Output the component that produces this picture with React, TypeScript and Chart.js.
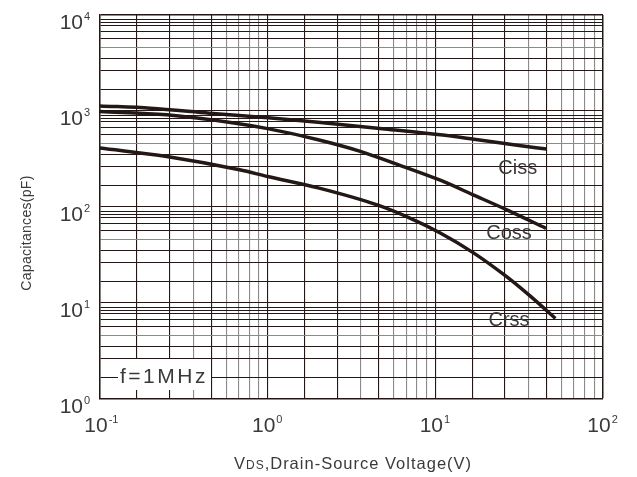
import React, { useEffect, useRef } from "react";
import { Chart, registerables } from "chart.js";

Chart.register(...registerables);

// ---- data ----
const cissV = [0.1, 0.2, 0.45, 1, 2, 5, 10.7, 17, 30, 46];
const cissC = [1130, 1070, 950, 850, 765, 650, 565, 508, 443, 401];
const cossV = [0.1, 0.25, 0.63, 1, 2, 3.57, 5.6, 10.7, 16.8, 26.5, 45.7];
const cossC = [990, 912, 750, 655, 502, 380, 288, 190, 134, 94, 60];
const crssV = [0.1, 0.25, 0.68, 1, 2, 4.5, 7, 10.7, 16.8, 26.5, 37, 52];
const crssC = [411, 336, 244, 208, 158, 105, 77, 53.6, 33.5, 18.9, 11.7, 6.9];

const seriesNames = ["Ciss", "Coss", "Crss"];
// label anchor values (V, pF) for the curve names
const labelV = [31, 27.5, 27.5];
const labelC = [256, 54, 6.7];

const xDecades = [-1, 0, 1, 2];
const yDecades = [0, 1, 2, 3, 4];
// grid multipliers within each decade (as printed on the datasheet grid)
const xGridMult = [1, 1.66, 2.6, 3.6, 4.6, 5.65, 6.7, 7.75, 8.85];
const xGridDark = [true, true, true, false, true, false, false, false, false];
const yGridMult = [1, 1.66, 2.63, 3.55, 4.6, 5.63, 6.7, 7.68, 8.4, 9.0];
const yGridDark = [true, true, true, true, false, true, true, true, true, true];

const xTitleMain = "V";
const xTitleSub = "DS";
const xTitleRest = ",Drain-Source Voltage(V)";
const yTitle = "Capacitances(pF)";
const noteText = "f=1MHz";

const DARK = "#231815";
const GRAY = "#8a8a8a";
const TEXT = "#3a3a3a";
const FONT = "'Liberation Sans', Arial, sans-serif";

function gridValues(decades: number[], mult: number[]) {
  const out: number[] = [];
  decades.forEach((d, i) => {
    if (i === decades.length - 1) {
      out.push(Math.pow(10, d));
      return;
    }
    mult.forEach((m) => out.push(m * Math.pow(10, d)));
  });
  return out;
}

function isDark(v: number, mult: number[], dark: boolean[]) {
  const e = Math.floor(Math.log10(v) + 1e-9);
  const m = v / Math.pow(10, e);
  let best = 0;
  let bd = 1e9;
  mult.forEach((mm, i) => {
    const d = Math.abs(mm - m);
    if (d < bd) {
      bd = d;
      best = i;
    }
  });
  return dark[best];
}

const xTicks = gridValues(xDecades, xGridMult);
const yTicks = gridValues(yDecades, yGridMult);

const textPlugin = {
  id: "textPlugin",
  afterDraw(chart: any) {
    const ctx = chart.ctx as CanvasRenderingContext2D;
    const xs = chart.scales.x;
    const ys = chart.scales.y;
    ctx.save();
    ctx.fillStyle = TEXT;

    // y tick labels
    yDecades.forEach((d) => {
      const py = ys.getPixelForValue(Math.pow(10, d));
      const base = py + 6 + 7.5;
      ctx.font = `21px ${FONT}`;
      ctx.textAlign = "right";
      ctx.textBaseline = "alphabetic";
      ctx.fillText("10", 83, base);
      ctx.font = `11px ${FONT}`;
      ctx.textAlign = "left";
      ctx.fillText(String(d), 84, base - 9);
    });

    // x tick labels
    xDecades.forEach((d) => {
      const px = xs.getPixelForValue(Math.pow(10, d));
      const base = 424 + 7.5;
      ctx.font = `21px ${FONT}`;
      ctx.textAlign = "center";
      ctx.textBaseline = "alphabetic";
      const cx = px - 4;
      ctx.fillText("10", cx, base);
      const w = ctx.measureText("10").width;
      ctx.font = `11px ${FONT}`;
      ctx.textAlign = "left";
      ctx.fillText(d < 0 ? "-" + Math.abs(d) : String(d), cx + w / 2 + 1, base - 9);
    });

    // x title
    ctx.textAlign = "left";
    ctx.textBaseline = "alphabetic";
    (ctx as any).letterSpacing = "1px";
    ctx.font = `16.5px ${FONT}`;
    const w1 = ctx.measureText(xTitleMain).width;
    const w3 = ctx.measureText(xTitleRest).width;
    ctx.font = `12px ${FONT}`;
    const w2 = ctx.measureText(xTitleSub).width;
    const total = w1 + w2 + w3;
    let sx = 353 - total / 2;
    const tb = 469;
    ctx.font = `16.5px ${FONT}`;
    ctx.fillText(xTitleMain, sx, tb);
    sx += w1;
    ctx.font = `12px ${FONT}`;
    ctx.fillText(xTitleSub, sx, tb);
    sx += w2;
    ctx.font = `16.5px ${FONT}`;
    ctx.fillText(xTitleRest, sx, tb);

    // y title
    ctx.save();
    ctx.translate(27, 233);
    ctx.rotate(-Math.PI / 2);
    (ctx as any).letterSpacing = "0.3px";
    ctx.font = `14px ${FONT}`;
    ctx.textAlign = "center";
    ctx.textBaseline = "middle";
    ctx.fillText(yTitle, 0, 0);
    ctx.restore();

    // series labels
    (ctx as any).letterSpacing = "0px";
    ctx.font = `20px ${FONT}`;
    ctx.textAlign = "center";
    ctx.textBaseline = "middle";
    seriesNames.forEach((n, i) => {
      const px = xs.getPixelForValue(labelV[i]);
      const py = ys.getPixelForValue(labelC[i]);
      ctx.fillText(n, px, py + 1);
    });

    // note box
    ctx.fillStyle = "#ffffff";
    ctx.fillRect(118, 359, 93, 31);
    ctx.fillStyle = TEXT;
    (ctx as any).letterSpacing = "2.5px";
    ctx.font = `21px ${FONT}`;
    ctx.textAlign = "left";
    ctx.textBaseline = "alphabetic";
    ctx.fillText(noteText, 120, 382.5);
    ctx.restore();
  },
};

export default function App() {
  const ref = useRef<HTMLCanvasElement | null>(null);
  useEffect(() => {
    if (!ref.current) return;
    const mk = (xv: number[], yv: number[], label: string) => ({
      label,
      data: xv.map((x, i) => ({ x, y: yv[i] })),
      borderColor: DARK,
      borderWidth: 3.5,
      pointRadius: 0,
      fill: false,
      cubicInterpolationMode: "monotone" as const,
      borderCapStyle: "butt" as const,
    });
    const chart = new Chart(ref.current, {
      type: "line",
      data: {
        datasets: [
          mk(cissV, cissC, seriesNames[0]),
          mk(cossV, cossC, seriesNames[1]),
          mk(crssV, crssC, seriesNames[2]),
        ],
      },
      options: {
        animation: false,
        responsive: false,
        layout: { padding: { left: 100, top: 15, right: 34, bottom: 78 } },
        plugins: { legend: { display: false }, tooltip: { enabled: false } },
        scales: {
          x: {
            type: "logarithmic",
            min: 0.1,
            max: 100,
            afterBuildTicks: (s: any) => {
              s.ticks = xTicks.map((v) => ({ value: v }));
            },
            afterFit: (s: any) => {
              s.height = 0;
            },
            ticks: { display: false },
            border: { display: true, color: DARK, width: 1.5 },
            grid: {
              drawTicks: false,
              color: (c: any) =>
                isDark(c.tick.value, xGridMult, xGridDark) ? DARK : GRAY,
              lineWidth: (c: any) => (c.tick.value >= 99 ? 1.5 : 1.1),
            },
          },
          y: {
            type: "logarithmic",
            min: 1,
            max: 10000,
            afterBuildTicks: (s: any) => {
              s.ticks = yTicks.map((v) => ({ value: v }));
            },
            afterFit: (s: any) => {
              s.width = 0;
            },
            ticks: { display: false },
            border: { display: true, color: DARK, width: 1.5 },
            grid: {
              drawTicks: false,
              color: (c: any) =>
                isDark(c.tick.value, yGridMult, yGridDark) ? DARK : GRAY,
              lineWidth: (c: any) => (c.tick.value >= 9999 ? 1.5 : 1.1),
            },
          },
        },
      },
      plugins: [textPlugin],
    });
    return () => chart.destroy();
  }, []);
  return (
    <canvas
      ref={ref}
      width={637}
      height={477}
      style={{ position: "absolute", left: 0, top: 0, display: "block", background: "#fff" }}
    />
  );
}
